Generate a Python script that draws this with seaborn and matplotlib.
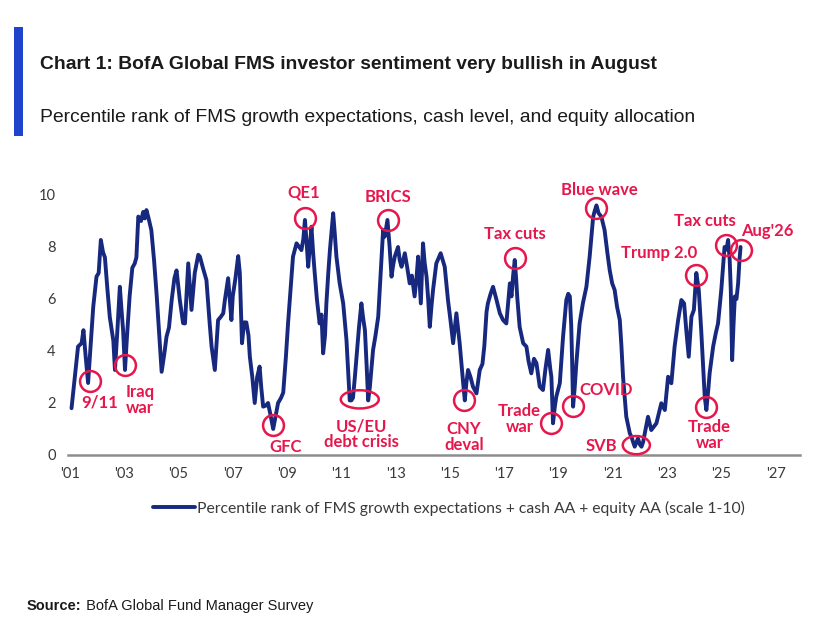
import matplotlib
matplotlib.use("Agg")
import matplotlib.pyplot as plt
import seaborn as sns
import pandas as pd
from matplotlib.patches import Rectangle, Ellipse

# ---------------- data ----------------
years = [
    2001.06, 2001.30, 2001.43, 2001.50, 2001.58, 2001.67, 2001.78, 2001.86, 2001.98, 2002.06,
    2002.14, 2002.22, 2002.29, 2002.38, 2002.47, 2002.60, 2002.66, 2002.75, 2002.84, 2002.90,
    2002.96, 2003.03, 2003.10, 2003.20, 2003.30, 2003.39, 2003.45, 2003.52, 2003.62, 2003.70,
    2003.76, 2003.82, 2003.90, 2004.00, 2004.10, 2004.20, 2004.28, 2004.38, 2004.48, 2004.56,
    2004.65, 2004.75, 2004.85, 2004.93, 2005.05, 2005.17, 2005.24, 2005.36, 2005.48, 2005.55,
    2005.60, 2005.73, 2005.79, 2005.90, 2006.03, 2006.15, 2006.22, 2006.34, 2006.46, 2006.55,
    2006.65, 2006.71, 2006.83, 2006.95, 2007.00, 2007.10, 2007.20, 2007.26, 2007.34, 2007.42,
    2007.50, 2007.58, 2007.63, 2007.72, 2007.81, 2007.90, 2007.99, 2008.05, 2008.12, 2008.22,
    2008.30, 2008.38, 2008.49, 2008.58, 2008.67, 2008.78, 2008.86, 2008.96, 2009.04, 2009.12,
    2009.22, 2009.35, 2009.45, 2009.53, 2009.60, 2009.66, 2009.72, 2009.78, 2009.84, 2009.90,
    2009.96, 2010.02, 2010.10, 2010.20, 2010.27, 2010.33, 2010.40, 2010.45, 2010.52, 2010.58,
    2010.70, 2010.76, 2010.82, 2010.94, 2011.07, 2011.19, 2011.31, 2011.37, 2011.43, 2011.50,
    2011.56, 2011.65, 2011.74, 2011.80, 2011.87, 2011.93, 2011.99, 2012.05, 2012.17, 2012.26,
    2012.36, 2012.45, 2012.54, 2012.60, 2012.70, 2012.78, 2012.85, 2012.91, 2012.97, 2013.09,
    2013.15, 2013.22, 2013.34, 2013.43, 2013.52, 2013.60, 2013.70, 2013.77, 2013.83, 2013.93,
    2014.01, 2014.07, 2014.14, 2014.20, 2014.26, 2014.32, 2014.38, 2014.50, 2014.66, 2014.81,
    2014.93, 2015.02, 2015.12, 2015.24, 2015.36, 2015.49, 2015.55, 2015.61, 2015.67, 2015.76,
    2015.85, 2015.98, 2016.10, 2016.20, 2016.27, 2016.35, 2016.40, 2016.50, 2016.59, 2016.72,
    2016.84, 2016.96, 2017.08, 2017.16, 2017.21, 2017.27, 2017.33, 2017.39, 2017.44, 2017.48,
    2017.57, 2017.70, 2017.82, 2017.90, 2018.00, 2018.10, 2018.19, 2018.31, 2018.43, 2018.52,
    2018.62, 2018.70, 2018.74, 2018.80, 2018.86, 2018.92, 2019.05, 2019.17, 2019.29, 2019.36,
    2019.42, 2019.47, 2019.50, 2019.54, 2019.60, 2019.66, 2019.78, 2019.90, 2020.03, 2020.15,
    2020.28, 2020.34, 2020.40, 2020.48, 2020.58, 2020.70, 2020.80, 2020.89, 2020.98, 2021.07,
    2021.16, 2021.26, 2021.32, 2021.38, 2021.44, 2021.50, 2021.63, 2021.69, 2021.75, 2021.81,
    2021.93, 2022.00, 2022.06, 2022.12, 2022.18, 2022.30, 2022.42, 2022.52, 2022.61, 2022.70,
    2022.79, 2022.92, 2023.04, 2023.16, 2023.28, 2023.41, 2023.53, 2023.63, 2023.71, 2023.80,
    2023.90, 2023.99, 2024.08, 2024.17, 2024.26, 2024.34, 2024.39, 2024.45, 2024.52, 2024.57,
    2024.70, 2024.80, 2024.88, 2025.00, 2025.06, 2025.12, 2025.19, 2025.25, 2025.31, 2025.35,
    2025.40, 2025.45, 2025.50, 2025.56, 2025.62, 2025.67, 2025.71,
]
sentiment = [
    1.80, 4.17, 4.30, 4.80, 3.80, 2.77, 4.50, 5.70, 6.86, 7.00,
    8.27, 7.80, 7.60, 6.40, 5.30, 4.40, 3.27, 4.80, 6.47, 5.60,
    4.80, 3.27, 4.50, 6.10, 7.20, 7.37, 7.60, 9.17, 9.00, 9.35,
    9.10, 9.42, 9.10, 8.65, 7.50, 6.10, 4.80, 3.20, 3.90, 4.55,
    4.90, 5.96, 6.80, 7.10, 5.96, 5.07, 5.06, 7.37, 5.58, 6.40,
    7.00, 7.70, 7.63, 7.20, 6.73, 5.06, 4.17, 3.27, 5.19, 5.30,
    5.45, 5.96, 6.80, 5.19, 6.10, 6.80, 7.65, 7.00, 4.30, 5.10,
    5.10, 4.60, 3.78, 3.00, 2.00, 3.00, 3.40, 2.60, 1.86, 1.90,
    2.00, 1.60, 1.00, 1.50, 2.00, 2.20, 2.40, 3.80, 5.10, 6.20,
    7.63, 8.14, 8.00, 7.88, 8.30, 9.04, 8.20, 7.24, 8.00, 8.78,
    7.80, 7.00, 6.00, 5.06, 5.40, 3.91, 4.60, 5.83, 7.00, 7.88,
    9.30, 8.50, 7.63, 6.60, 5.83, 4.42, 2.10, 2.10, 2.20, 3.00,
    3.78, 4.90, 5.83, 5.30, 4.80, 3.50, 2.10, 2.60, 4.04, 4.60,
    5.32, 7.00, 8.65, 8.40, 9.04, 8.00, 6.86, 7.30, 7.63, 8.00,
    7.50, 7.24, 7.76, 7.20, 6.60, 6.90, 6.10, 6.80, 7.63, 5.83,
    8.14, 7.40, 6.86, 6.00, 4.93, 5.70, 6.35, 7.37, 7.76, 7.24,
    5.96, 5.20, 4.30, 5.45, 4.30, 2.76, 2.10, 2.80, 3.27, 3.00,
    2.63, 2.37, 3.27, 3.50, 4.20, 5.50, 5.83, 6.20, 6.47, 5.96,
    5.45, 5.19, 5.06, 6.00, 6.60, 6.10, 6.90, 7.50, 6.80, 6.10,
    4.93, 4.30, 4.17, 3.60, 3.14, 3.70, 3.53, 2.63, 2.50, 3.30,
    4.04, 3.30, 3.00, 1.22, 1.80, 2.24, 2.76, 4.55, 5.96, 6.20,
    6.10, 5.00, 3.78, 1.86, 2.60, 3.53, 5.06, 5.83, 6.47, 7.63,
    9.17, 9.40, 9.60, 9.30, 9.17, 8.65, 7.80, 7.10, 6.60, 6.35,
    5.70, 5.19, 4.20, 3.01, 2.24, 1.47, 0.83, 0.70, 0.50, 0.32,
    0.64, 0.40, 0.32, 0.50, 0.83, 1.47, 0.96, 1.10, 1.22, 1.60,
    1.99, 1.73, 3.01, 2.76, 4.17, 5.19, 5.96, 5.83, 4.80, 3.78,
    5.32, 5.58, 7.00, 6.35, 4.80, 3.20, 2.24, 1.73, 2.50, 3.14,
    4.17, 4.70, 5.06, 6.35, 7.20, 8.00, 7.90, 8.27, 7.50, 6.35,
    3.65, 5.00, 6.10, 6.00, 6.60, 7.50, 8.00,
]

tick_years = list(range(2001, 2028, 2))
tick_labels = ["'01", "'03", "'05", "'07", "'09", "'11", "'13", "'15", "'17", "'19",
               "'21", "'23", "'25", "'27"]

# annotations: label, circled point (year, value)
ann_labels = ["9/11", "Iraq\nwar", "GFC", "QE1", "US/EU\ndebt crisis", "BRICS", "CNY\ndeval",
              "Tax cuts", "Trade\nwar", "COVID", "Blue wave", "SVB", "Trump 2.0", "Trade\nwar",
              "Tax cuts", "Aug'26"]
ann_x = [2001.74, 2003.03, 2008.49, 2009.66, 2011.68, 2012.72, 2015.52, 2017.39, 2018.74,
         2019.54, 2020.40, 2021.87, 2024.08, 2024.45, 2025.19, 2025.74]
ann_y = [2.85, 3.46, 1.15, 9.10, 2.14, 9.04, 2.12, 7.57, 1.22, 1.88, 9.49, 0.38, 6.92, 1.85,
         8.08, 7.88]

legend_label = "Percentile rank of FMS growth expectations + cash AA + equity AA (scale 1-10)"

# ---------------- styling ----------------
NAVY = "#17287f"
RED = "#e5174c"
TXT = "#3a3a3a"

sns.set_theme(style="white")
plt.rcParams["font.family"] = ["Lato", "DejaVu Sans"]

W, H = 823, 624
fig = plt.figure(figsize=(W / 100, H / 100), dpi=100)
fig.patch.set_facecolor("white")

x0, x1 = 68, 800
y0, y1 = 195, 455
ax = fig.add_axes([x0 / W, 1 - y1 / H, (x1 - x0) / W, (y1 - y0) / H])

df = pd.DataFrame({"year": years, "value": sentiment})
sns.lineplot(data=df, x="year", y="value", ax=ax, color=NAVY, linewidth=2.8,
             label=legend_label, sort=False)

ax.set_xlim(2000.93, 2027.9)
ax.set_ylim(0, 10)
ax.set_xticks(tick_years)
ax.set_xticklabels(tick_labels)
ax.set_yticks(range(0, 11, 2))
ax.set_xlabel("")
ax.set_ylabel("")
ax.tick_params(axis="both", length=0, labelsize=10.5, colors=TXT)
ax.tick_params(axis="x", pad=9)
ax.tick_params(axis="y", pad=9)
for s in ("left", "top", "right"):
    ax.spines[s].set_visible(False)
ax.spines["bottom"].set_color("#8d8d8d")
ax.spines["bottom"].set_linewidth(1.8)
ax.grid(False)

leg = ax.legend(loc="center", bbox_to_anchor=(0.52, -0.204), frameon=False,
                fontsize=11.3, handlelength=2.7, handletextpad=0.1)
for t in leg.get_texts():
    t.set_color(TXT)

# circles
circle_idx = [i for i, l in enumerate(ann_labels) if l not in ("US/EU\ndebt crisis", "SVB")]
ax.plot([ann_x[i] for i in circle_idx], [ann_y[i] for i in circle_idx], "o", ms=15,
        mfc="none", mec=RED, mew=1.8, clip_on=False, zorder=5)
# ellipses (width in years, height in value units)
for lab, w, h in (("US/EU\ndebt crisis", 1.40, 0.70), ("SVB", 1.0, 0.70)):
    i = ann_labels.index(lab)
    ax.add_patch(Ellipse((ann_x[i], ann_y[i]), w, h, fill=False, edgecolor=RED, lw=1.8,
                         clip_on=False, zorder=5))

# text offsets (pixels) relative to circled point
ann_dx = [10, 1, 12, -1, 2, 0, 0, 0, -32, 33, 3, -35, -37, 3, -22, 26]
ann_dy = [-22, -35, -22, 26, -35, 23, -37, 24, 4, 16, 18, -1, 22, -28, 24, 19]
ann_ha = ["center", "left", "center", "center", "center", "center", "center", "center",
          "center", "center", "center", "center", "center", "center", "center", "center"]
for lab, x, y, dx, dy, ha in zip(ann_labels, ann_x, ann_y, ann_dx, ann_dy, ann_ha):
    ax.annotate(lab, (x, y), xytext=(dx, dy), textcoords="offset pixels", ha=ha,
                va="center", color=RED, fontsize=12, fontweight="bold",
                linespacing=1.0, annotation_clip=False, zorder=6)

# header
fig.add_artist(Rectangle((14 / W, 1 - 136 / H), 9 / W, 109 / H, transform=fig.transFigure,
                         facecolor="#1f44cc", edgecolor="none"))
hdr_font = ["Liberation Sans", "DejaVu Sans"]
fig.text(40 / W, 1 - 69 / H, "Chart 1: BofA Global FMS investor sentiment very bullish in August",
         family=hdr_font, fontweight="bold", fontsize=13.9, color="#1a1a1a", va="baseline")
fig.text(40 / W, 1 - 122 / H,
         "Percentile rank of FMS growth expectations, cash level, and equity allocation",
         family=hdr_font, fontsize=13.85, color="#1a1a1a", va="baseline")

src1 = fig.text(27 / W, 1 - 610 / H, "Source:", family=hdr_font, fontweight="bold",
                fontsize=10.5, color="#1a1a1a", va="baseline")
fig.canvas.draw()
bb = src1.get_window_extent(fig.canvas.get_renderer())
fig.text(bb.x1 / W, 1 - 610 / H, " BofA Global Fund Manager Survey", family=hdr_font,
         fontsize=10.5, color="#1a1a1a", va="baseline")

fig.savefig("out.png", dpi=100, facecolor="white")
